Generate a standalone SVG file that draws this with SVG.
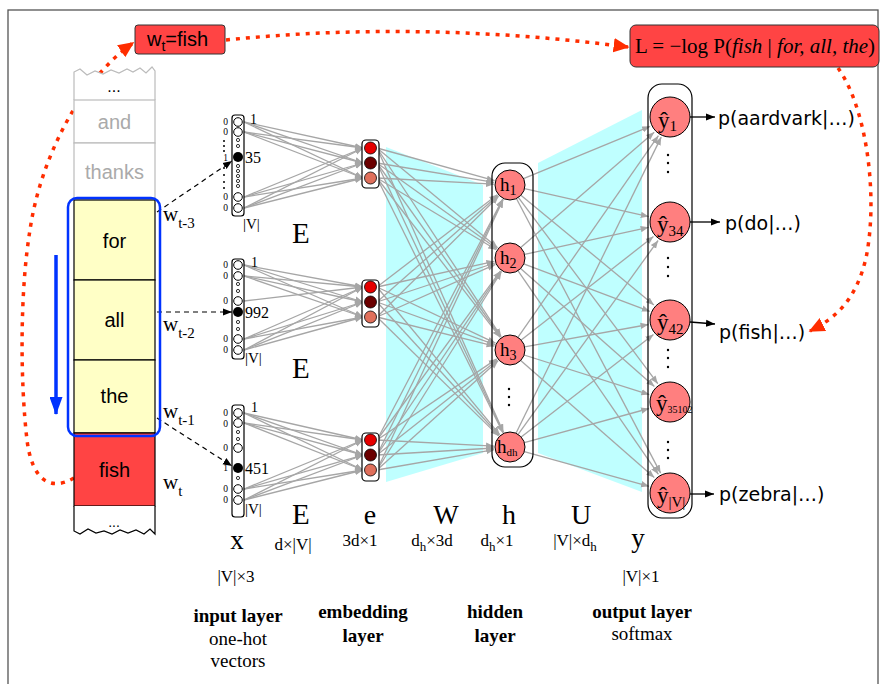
<svg xmlns="http://www.w3.org/2000/svg" width="885" height="684" viewBox="0 0 885 684">
<style>
.serif{font-family:"Liberation Serif","Times New Roman",serif;fill:#000}
.sans{font-family:"Liberation Sans",Arial,sans-serif}
.dv{font-family:"DejaVu Sans",Verdana,sans-serif;fill:#000}
.g{stroke:#a6a6a6;stroke-width:1.3;fill:none;marker-end:url(#ga)}
.red{stroke:#ff2d00;stroke-width:3.5;fill:none;stroke-dasharray:4 6}
.dash{stroke:#000;stroke-width:1.2;fill:none;stroke-dasharray:5 4;marker-end:url(#ba)}
.oc{fill:#fff;stroke:#000;stroke-width:1}
.sd{fill:#fff;stroke:#000;stroke-width:0.8}
.hn{fill:#ff7f7f;stroke:#000;stroke-width:1}
.box{fill:#fff;stroke:#000;stroke-width:1.2}
.cell{fill:#ffffc6;stroke:#000;stroke-width:1.2}
.gcell{fill:#fff;stroke:#bbb;stroke-width:1.2}
.lab0{font-family:"Liberation Serif",serif;font-size:9.5px;text-anchor:end}
.dot{fill:#000}
.cy{fill:#bfffff}
</style>
<defs>
<marker id="ga" viewBox="0 0 10 10" refX="10" refY="5" markerWidth="8" markerHeight="8" markerUnits="userSpaceOnUse" orient="auto"><path d="M0,1 L10,5 L0,9 z" fill="#a6a6a6"/></marker>
<marker id="ba" viewBox="0 0 10 10" refX="10" refY="5" markerWidth="9" markerHeight="9" markerUnits="userSpaceOnUse" orient="auto"><path d="M0,1 L10,5 L0,9 z" fill="#000"/></marker>
<marker id="ra" viewBox="0 0 10 10" refX="9" refY="5" markerWidth="16" markerHeight="16" markerUnits="userSpaceOnUse" orient="auto"><path d="M0,0.5 L10,5 L0,9.5 z" fill="#ff2d00"/></marker>
<marker id="bl" viewBox="0 0 18 13" refX="17" refY="6.5" markerWidth="18" markerHeight="13" markerUnits="userSpaceOnUse" orient="auto"><path d="M0,0 L18,6.5 L0,13 z" fill="#0033ff"/></marker>
</defs>
<rect x="0" y="0" width="885" height="684" fill="#fff"/>
<rect x="8" y="10" width="870" height="690" fill="none" stroke="#555" stroke-width="1.3"/>

<!-- cyan weight panels -->
<polygon class="cy" points="386,147 483,185 483,453 386,482"/>
<polygon class="cy" points="538,163 642,110 642,492 538,453"/>

<g id="connectors">
<!-- x -> e -->
<path class="g" d="M244,122 L363,148"/><path class="g" d="M244,122 L363,163"/><path class="g" d="M244,122 L363,178"/>
<path class="g" d="M244,132 L363,148"/><path class="g" d="M244,132 L363,163"/><path class="g" d="M244,132 L363,178"/>
<path class="g" d="M244,197 L363,148"/><path class="g" d="M244,197 L363,163"/><path class="g" d="M244,197 L363,178"/>
<path class="g" d="M244,208 L363,148"/><path class="g" d="M244,208 L363,163"/><path class="g" d="M244,208 L363,178"/>
<path class="g" d="M244,265 L363,287"/><path class="g" d="M244,265 L363,302"/><path class="g" d="M244,265 L363,317"/>
<path class="g" d="M244,276 L363,287"/><path class="g" d="M244,276 L363,302"/><path class="g" d="M244,276 L363,317"/>
<path class="g" d="M244,301 L363,287"/>
<path class="g" d="M244,339 L363,287"/><path class="g" d="M244,339 L363,302"/><path class="g" d="M244,339 L363,317"/>
<path class="g" d="M244,350 L363,287"/><path class="g" d="M244,350 L363,302"/><path class="g" d="M244,350 L363,317"/>
<path class="g" d="M244,413 L363,440"/><path class="g" d="M244,413 L363,455"/><path class="g" d="M244,413 L363,470"/>
<path class="g" d="M244,423 L363,440"/><path class="g" d="M244,423 L363,455"/><path class="g" d="M244,423 L363,470"/>
<path class="g" d="M244,489 L363,440"/><path class="g" d="M244,489 L363,455"/><path class="g" d="M244,489 L363,470"/>
<path class="g" d="M244,500 L363,440"/><path class="g" d="M244,500 L363,455"/><path class="g" d="M244,500 L363,470"/>
<!-- e -> h -->
<path class="g" d="M377,148 L494.6,180.7"/><path class="g" d="M377,163 L494.2,182.4"/><path class="g" d="M377,178 L494,184.2"/>
<path class="g" d="M377,287 L497.3,194.7"/><path class="g" d="M377,302 L497.9,195.5"/><path class="g" d="M377,317 L498.6,196.2"/>
<path class="g" d="M377,440 L502.6,199.2"/><path class="g" d="M377,455 L502.9,199.3"/><path class="g" d="M377,470 L503.2,199.5"/>
<path class="g" d="M377,148 L497.6,247.8"/><path class="g" d="M377,163 L497,248.7"/><path class="g" d="M377,178 L496.3,249.8"/>
<path class="g" d="M377,287 L494.4,261.4"/><path class="g" d="M377,302 L494.8,263"/><path class="g" d="M377,317 L495.4,264.4"/>
<path class="g" d="M377,440 L500.5,270.9"/><path class="g" d="M377,455 L501,271.2"/><path class="g" d="M377,470 L501.5,271.5"/>
<path class="g" d="M377,148 L501.2,336.7"/><path class="g" d="M377,163 L500.7,337"/><path class="g" d="M377,178 L500.2,337.4"/>
<path class="g" d="M377,287 L495.5,343.2"/><path class="g" d="M377,302 L494.9,344.6"/><path class="g" d="M377,317 L494.5,346.2"/>
<path class="g" d="M377,440 L496.7,358.9"/><path class="g" d="M377,455 L497.4,359.9"/><path class="g" d="M377,470 L498.1,360.7"/>
<path class="g" d="M377,148 L503.5,432.4"/><path class="g" d="M377,163 L503.2,432.5"/><path class="g" d="M377,178 L502.9,432.7"/>
<path class="g" d="M377,287 L499.7,434.7"/><path class="g" d="M377,302 L499.1,435.2"/><path class="g" d="M377,317 L498.5,435.9"/>
<path class="g" d="M377,440 L494,446.2"/><path class="g" d="M377,455 L494,448"/><path class="g" d="M377,470 L494.2,449.7"/>
<!-- h -> y -->
<path class="g" d="M523.5,178.7 L650.1,126.3"/><path class="g" d="M524.5,188.7 L648.7,216.6"/><path class="g" d="M520.9,195.2 L653.9,305"/><path class="g" d="M518.3,197.4 L657.8,383.7"/><path class="g" d="M516.4,198.5 L660.6,473.1"/>
<path class="g" d="M520.7,247.6 L654.2,132.3"/><path class="g" d="M524.6,254.4 L648.6,227.3"/><path class="g" d="M523.7,263.8 L649.8,311.4"/><path class="g" d="M520.6,268.5 L654.4,386.5"/><path class="g" d="M517.9,270.7 L658.4,474.3"/>
<path class="g" d="M517.9,337.3 L658.4,135.7"/><path class="g" d="M521.2,340.1 L653.5,236.6"/><path class="g" d="M524.6,346.9 L648.5,324.5"/><path class="g" d="M524.1,355 L649.3,394.6"/><path class="g" d="M520.7,360.5 L654.3,477.5"/>
<path class="g" d="M516,433.3 L661.2,137.1"/><path class="g" d="M518.1,434.4 L658.1,240.5"/><path class="g" d="M521.2,437.1 L653.5,334.5"/><path class="g" d="M524.3,442.6 L649,408.5"/><path class="g" d="M524.3,451.6 L649,486.3"/>
<!-- words -> one-hot -->
<path class="dash" d="M157,212 L232,161"/>
<path class="dash" d="M157,312 L232,312"/>
<path class="dash" d="M157,418 L232,466"/>
<!-- outputs -->
<path d="M690,117 L715,117" stroke="#000" stroke-width="1.3" marker-end="url(#ba)"/>
<path d="M690,222 L720,222" stroke="#000" stroke-width="1.3" marker-end="url(#ba)"/>
<path d="M690,322 L715,324" stroke="#000" stroke-width="1.3" marker-end="url(#ba)"/>
<path d="M690,494 L714,494" stroke="#000" stroke-width="1.3" marker-end="url(#ba)"/>
<!-- red dotted -->
<path class="red" d="M74,478 C50,492 32,480 27,440 C20,380 20,290 30,230 C40,160 80,80 133,43" marker-end="url(#ra)"/>
<path class="red" d="M226,40 Q420,20 628,47" marker-end="url(#ra)"/>
<path class="red" d="M838,68 C868,110 878,200 866,258 C856,300 836,318 810,331" marker-end="url(#ra)"/>
<!-- blue arrow -->
<path d="M56,255 L56,414" stroke="#0033ff" stroke-width="3.5" fill="none" marker-end="url(#bl)"/>
</g>

<!-- word column -->
<g id="words">
<path d="M74,100 L74,72 L80,69 L87,75 L95,71 L103,74 L111,70 L119,73 L127,69 L133,72 L140,68 L146,73 L152,67 L155,71 L155,100" fill="#fff" stroke="#bbb" stroke-width="1.2"/>
<text x="114" y="92" class="sans" font-size="16" fill="#000" text-anchor="middle">...</text>
<rect class="gcell" x="74" y="100" width="81" height="43"/>
<text x="114.5" y="129" class="sans" font-size="20" fill="#aaa" text-anchor="middle">and</text>
<rect class="gcell" x="74" y="143" width="81" height="57"/>
<text x="114.5" y="179" class="sans" font-size="20" fill="#aaa" text-anchor="middle">thanks</text>
<rect class="cell" x="74" y="200" width="81" height="80"/>
<text x="114.5" y="248" class="sans" font-size="20" fill="#000" text-anchor="middle">for</text>
<rect class="cell" x="74" y="280" width="81" height="80"/>
<text x="114.5" y="327" class="sans" font-size="20" fill="#000" text-anchor="middle">all</text>
<rect class="cell" x="74" y="360" width="81" height="73"/>
<text x="114.5" y="403" class="sans" font-size="20" fill="#000" text-anchor="middle">the</text>
<rect x="74" y="433" width="81" height="73" fill="#ff4444" stroke="#000" stroke-width="1.2"/>
<text x="114.5" y="477" class="sans" font-size="20" fill="#000" text-anchor="middle">fish</text>
<path d="M74,506 L74,531 L80,534 L88,529 L96,533 L104,531 L112,534 L120,530 L128,533 L136,530 L144,534 L150,529 L155,534 L155,506" fill="#fff" stroke="#000" stroke-width="1.2"/>
<text x="114" y="527" class="sans" font-size="14" fill="#000" text-anchor="middle">...</text>
<rect x="68" y="198" width="92" height="238" rx="9" fill="none" stroke="#0033ff" stroke-width="2.5"/>
<text x="163" y="221" class="serif" font-size="21">w<tspan font-size="15" dy="7">t-3</tspan></text>
<text x="163" y="331" class="serif" font-size="21">w<tspan font-size="15" dy="7">t-2</tspan></text>
<text x="163" y="418" class="serif" font-size="21">w<tspan font-size="15" dy="7">t-1</tspan></text>
<text x="163" y="489" class="serif" font-size="21">w<tspan font-size="15" dy="7">t</tspan></text>
</g>

<g id="target-box">
<rect x="135" y="25" width="90" height="29" rx="3" fill="#ff4444" stroke="#333" stroke-width="1"/>
<text x="147" y="46" class="sans" font-size="20" fill="#000">w<tspan font-size="14" dy="5">t</tspan><tspan dy="-5">=fish</tspan></text>
</g>

<g id="loss-box">
<rect x="630" y="25" width="249" height="42" rx="6" fill="#ff4444" stroke="#333" stroke-width="1"/>
<text x="635" y="53" class="serif" font-size="21">L = −log P(<tspan font-style="italic">fish</tspan> | <tspan font-style="italic">for, all, the</tspan>)</text>
</g>

<!-- one-hot vectors -->
<g id="x-t3">
<rect class="box" x="232" y="115" width="12" height="101" rx="3"/>
<circle class="oc" cx="238" cy="122" r="4.3"/><circle class="oc" cx="238" cy="132" r="4.3"/>
<circle class="sd" cx="238" cy="140" r="1.6"/><circle class="sd" cx="238" cy="146" r="1.6"/>
<circle cx="238" cy="157" r="5" fill="#000"/>
<circle class="sd" cx="238" cy="166" r="1.6"/><circle class="sd" cx="238" cy="171" r="1.6"/><circle class="sd" cx="238" cy="176" r="1.6"/><circle class="sd" cx="238" cy="181" r="1.6"/><circle class="sd" cx="238" cy="186" r="1.6"/>
<circle class="oc" cx="238" cy="197" r="4.3"/><circle class="oc" cx="238" cy="208" r="4.3"/>
<text class="lab0" x="228" y="125">0</text><text class="lab0" x="228" y="135">0</text><text class="lab0" x="228" y="161">1</text><text class="lab0" x="228" y="200">0</text><text class="lab0" x="228" y="211">0</text>
<circle class="dot" cx="224" cy="141" r="1"/><circle class="dot" cx="224" cy="146" r="1"/><circle class="dot" cx="224" cy="151" r="1"/>
<circle class="dot" cx="224" cy="168" r="1"/><circle class="dot" cx="224" cy="175" r="1"/><circle class="dot" cx="224" cy="182" r="1"/><circle class="dot" cx="224" cy="188" r="1"/>
<text x="250" y="124" class="serif" font-size="14">1</text>
<text x="245" y="163" class="serif" font-size="16">35</text>
<text x="243" y="229" class="serif" font-size="15">|V|</text>
</g>
<g id="x-t2">
<rect class="box" x="232" y="259" width="12" height="100" rx="3"/>
<circle class="oc" cx="238" cy="265" r="4.3"/><circle class="oc" cx="238" cy="276" r="4.3"/>
<circle class="sd" cx="238" cy="284" r="1.6"/><circle class="sd" cx="238" cy="291" r="1.6"/>
<circle class="oc" cx="238" cy="301" r="4.3"/>
<circle cx="238" cy="312" r="5" fill="#000"/>
<circle class="sd" cx="238" cy="322" r="1.6"/><circle class="sd" cx="238" cy="329" r="1.6"/>
<circle class="oc" cx="238" cy="339" r="4.3"/><circle class="oc" cx="238" cy="350" r="4.3"/>
<text class="lab0" x="228" y="268">0</text><text class="lab0" x="228" y="279">0</text><text class="lab0" x="228" y="304">0</text><text class="lab0" x="228" y="342">0</text><text class="lab0" x="228" y="353">0</text>
<text x="251" y="267" class="serif" font-size="14">1</text>
<text x="245" y="318" class="serif" font-size="16">992</text>
<text x="245" y="363" class="serif" font-size="15">|V|</text>
</g>
<g id="x-t1">
<rect class="box" x="232" y="405" width="12" height="112" rx="3"/>
<circle class="oc" cx="238" cy="413" r="4.3"/><circle class="oc" cx="238" cy="423" r="4.3"/>
<circle class="sd" cx="238" cy="432" r="1.6"/><circle class="sd" cx="238" cy="439" r="1.6"/>
<circle class="oc" cx="238" cy="448" r="4.3"/>
<circle cx="238" cy="468" r="5" fill="#000"/>
<circle class="sd" cx="238" cy="478" r="1.6"/>
<circle class="oc" cx="238" cy="489" r="4.3"/><circle class="oc" cx="238" cy="500" r="4.3"/>
<text class="lab0" x="228" y="416">0</text><text class="lab0" x="228" y="427">0</text><text class="lab0" x="228" y="451">0</text><text class="lab0" x="228" y="471">1</text><text class="lab0" x="228" y="492">0</text><text class="lab0" x="228" y="503">0</text>
<text x="251" y="412" class="serif" font-size="14">1</text>
<text x="245" y="474" class="serif" font-size="16">451</text>
<text x="245" y="514" class="serif" font-size="15">|V|</text>
</g>

<!-- embeddings -->
<g id="e-t3">
<rect class="box" x="362" y="140" width="17" height="48" rx="4"/>
<circle cx="370.5" cy="148" r="6" fill="#e60000" stroke="#000" stroke-width="0.8"/>
<circle cx="370.5" cy="163" r="6" fill="#6b0000" stroke="#000" stroke-width="0.8"/>
<circle cx="370.5" cy="178" r="6" fill="#e0705c" stroke="#000" stroke-width="0.8"/>
</g>
<g id="e-t2">
<rect class="box" x="362" y="280" width="17" height="47" rx="4"/>
<circle cx="370.5" cy="287" r="6" fill="#e60000" stroke="#000" stroke-width="0.8"/>
<circle cx="370.5" cy="302" r="6" fill="#6b0000" stroke="#000" stroke-width="0.8"/>
<circle cx="370.5" cy="317" r="6" fill="#e0705c" stroke="#000" stroke-width="0.8"/>
</g>
<g id="e-t1">
<rect class="box" x="362" y="433" width="17" height="48" rx="4"/>
<circle cx="370.5" cy="440" r="6" fill="#e60000" stroke="#000" stroke-width="0.8"/>
<circle cx="370.5" cy="455" r="6" fill="#6b0000" stroke="#000" stroke-width="0.8"/>
<circle cx="370.5" cy="470" r="6" fill="#e0705c" stroke="#000" stroke-width="0.8"/>
</g>

<!-- hidden layer -->
<g id="hidden">
<rect x="492" y="163" width="41" height="304" rx="13" fill="none" stroke="#000" stroke-width="1.2"/>
<circle class="hn" cx="510" cy="185" r="15"/>
<text x="500" y="191" class="serif" font-size="19">h<tspan font-size="14" dy="4">1</tspan></text>
<circle class="hn" cx="510" cy="258" r="15"/>
<text x="500" y="264" class="serif" font-size="19">h<tspan font-size="14" dy="4">2</tspan></text>
<circle class="hn" cx="510" cy="350" r="15"/>
<text x="500" y="356" class="serif" font-size="19">h<tspan font-size="14" dy="4">3</tspan></text>
<circle class="dot" cx="509" cy="389" r="1.2"/><circle class="dot" cx="509" cy="397" r="1.2"/><circle class="dot" cx="509" cy="405" r="1.2"/>
<circle class="hn" cx="510" cy="447" r="15"/>
<text x="497" y="453" class="serif" font-size="19">h<tspan font-size="11" dy="3">dh</tspan></text>
</g>

<!-- output layer -->
<g id="output">
<rect x="648" y="84" width="44" height="434" rx="14" fill="none" stroke="#000" stroke-width="1.2"/>
<circle class="hn" cx="670" cy="117" r="20"/>
<text x="658" y="128" class="serif" font-size="23">ŷ<tspan font-size="15" dy="3">1</tspan></text>
<circle class="dot" cx="668" cy="155" r="1.2"/><circle class="dot" cx="668" cy="163" r="1.2"/><circle class="dot" cx="668" cy="172" r="1.2"/>
<circle class="hn" cx="670" cy="222" r="20"/>
<text x="657" y="232" class="serif" font-size="23">ŷ<tspan font-size="15" dy="4">34</tspan></text>
<circle class="dot" cx="668" cy="258" r="1.2"/><circle class="dot" cx="668" cy="267" r="1.2"/><circle class="dot" cx="668" cy="276" r="1.2"/>
<circle class="hn" cx="670" cy="320" r="20"/>
<text x="657" y="330" class="serif" font-size="23">ŷ<tspan font-size="15" dy="4">42</tspan></text>
<circle class="dot" cx="668" cy="350" r="1.2"/><circle class="dot" cx="668" cy="358" r="1.2"/><circle class="dot" cx="668" cy="367" r="1.2"/>
<circle class="hn" cx="670" cy="402" r="20"/>
<text x="656" y="411" class="serif" font-size="23">ŷ<tspan font-size="10" dy="2">35102</tspan></text>
<circle class="dot" cx="668" cy="442" r="1.2"/><circle class="dot" cx="668" cy="450" r="1.2"/><circle class="dot" cx="668" cy="458" r="1.2"/>
<circle class="hn" cx="670" cy="493" r="20"/>
<text x="657" y="503" class="serif" font-size="23">ŷ<tspan font-size="15" dy="4">|V|</tspan></text>
<text x="718" y="125" class="dv" font-size="19">p(aardvark|…)</text>
<text x="725" y="230" class="dv" font-size="19">p(do|…)</text>
<text x="719" y="339" class="dv" font-size="19">p(fish|…)</text>
<text x="719" y="501" class="dv" font-size="19">p(zebra|…)</text>
</g>

<!-- matrix / layer labels -->
<g id="labels" class="serif">
<text x="292" y="243" font-size="29">E</text>
<text x="292" y="378" font-size="29">E</text>
<text x="292" y="524" font-size="29">E</text>
<text x="370" y="524" font-size="28" text-anchor="middle">e</text>
<text x="446" y="524" font-size="27" text-anchor="middle">W</text>
<text x="509" y="524" font-size="28" text-anchor="middle">h</text>
<text x="581" y="524" font-size="28" text-anchor="middle">U</text>
<text x="237" y="549" font-size="27" text-anchor="middle">x</text>
<text x="638" y="547" font-size="27" text-anchor="middle">y</text>
<text x="293" y="550" font-size="17" text-anchor="middle">d×|V|</text>
<text x="360" y="546" font-size="17" text-anchor="middle">3d×1</text>
<text x="432" y="546" font-size="17" text-anchor="middle">d<tspan font-size="13" dy="5">h</tspan><tspan dy="-5">×3d</tspan></text>
<text x="497" y="546" font-size="17" text-anchor="middle">d<tspan font-size="13" dy="5">h</tspan><tspan dy="-5">×1</tspan></text>
<text x="575" y="546" font-size="17" text-anchor="middle">|V|×d<tspan font-size="13" dy="5">h</tspan></text>
<text x="236" y="582" font-size="17" text-anchor="middle">|V|×3</text>
<text x="641" y="582" font-size="17" text-anchor="middle">|V|×1</text>
<text x="238" y="622" font-size="19" font-weight="bold" text-anchor="middle">input layer</text>
<text x="238" y="645" font-size="19" text-anchor="middle">one-hot</text>
<text x="238" y="667" font-size="19" text-anchor="middle">vectors</text>
<text x="363" y="618" font-size="19" font-weight="bold" text-anchor="middle">embedding</text>
<text x="363" y="642" font-size="19" font-weight="bold" text-anchor="middle">layer</text>
<text x="495" y="618" font-size="19" font-weight="bold" text-anchor="middle">hidden</text>
<text x="495" y="642" font-size="19" font-weight="bold" text-anchor="middle">layer</text>
<text x="642" y="618" font-size="19" font-weight="bold" text-anchor="middle">output layer</text>
<text x="642" y="640" font-size="19" text-anchor="middle">softmax</text>
</g>
</svg>
